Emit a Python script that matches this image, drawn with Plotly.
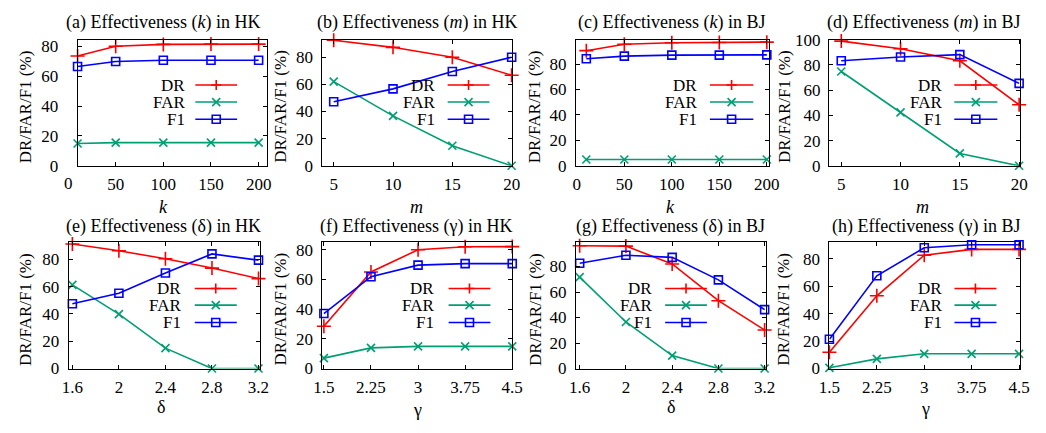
import plotly.graph_objects as go

W, H = 1046, 433

# ---------------- data ----------------
k_vals = [10, 50, 100, 150, 200]
m_vals = [5, 10, 15, 20]
delta_vals = [1.6, 2.0, 2.4, 2.8, 3.2]
gamma_vals = [1.5, 2.25, 3.0, 3.75, 4.5]

k_ticks = [0, 50, 100, 150, 200]
m_ticks = [5, 10, 15, 20]
delta_ticks = [1.6, 2.0, 2.4, 2.8, 3.2]
delta_ticktext = ["1.6", "2", "2.4", "2.8", "3.2"]
gamma_ticks = [1.5, 2.25, 3.0, 3.75, 4.5]
gamma_ticktext = ["1.5", "2.25", "3", "3.75", "4.5"]
y_ticks80 = [0, 20, 40, 60, 80]
y_ticks100 = [0, 20, 40, 60, 80, 100]

series_names = ["DR", "FAR", "F1"]

a_DR = [73.5, 80.0, 81.3, 81.5, 81.5]
a_FAR = [14.9, 15.5, 15.5, 15.5, 15.5]
a_F1 = [66.5, 69.8, 70.7, 70.7, 70.7]

b_DR = [92.5, 87.3, 80.0, 66.7]
b_FAR = [62.0, 36.8, 14.8, 0.0]
b_F1 = [47.2, 56.7, 69.5, 80.0]

c_DR = [90.5, 95.5, 96.7, 96.9, 97.2]
c_FAR = [5.0, 5.0, 5.0, 5.0, 5.0]
c_F1 = [84.2, 86.2, 87.0, 87.0, 87.2]

d_DR = [98.8, 92.7, 83.2, 48.4]
d_FAR = [74.7, 42.3, 9.8, 0.0]
d_F1 = [83.2, 86.2, 88.1, 65.3]

e_DR = [91.3, 86.3, 80.4, 73.6, 65.9]
e_FAR = [61.3, 39.9, 14.9, 0.0, 0.0]
e_F1 = [47.4, 55.1, 70.0, 84.0, 79.4]

f_DR = [28.5, 65.0, 80.0, 82.0, 82.1]
f_FAR = [7.0, 13.9, 14.9, 14.9, 14.9]
f_F1 = [37.0, 61.8, 69.6, 70.6, 70.6]

g_DR = [96.3, 96.0, 82.0, 53.2, 30.2]
g_FAR = [71.7, 36.5, 10.1, 0.0, 0.0]
g_F1 = [82.5, 88.8, 87.2, 69.5, 46.2]

h_DR = [11.8, 53.0, 82.6, 86.8, 86.8]
h_FAR = [0.5, 7.0, 10.7, 10.7, 10.7]
h_F1 = [21.3, 67.6, 88.0, 90.2, 90.2]

# ---------------- styles ----------------
FONT = "Liberation Serif"
COLORS = {"DR": "#ff0000", "FAR": "#009e73", "F1": "#0000ff"}
SYMBOLS = {"DR": "cross-thin-open", "FAR": "x-thin-open", "F1": "square-open"}
MSIZE = {"DR": 10, "FAR": 8, "F1": 8}

TOP = (32, 164)
BOT = (244, 376)

panels = [
    dict(x=k_vals, DR=a_DR, FAR=a_FAR, F1=a_F1, box=(68, 262), row=TOP,
         title="(a) Effectiveness (<i>k</i>) in HK", tcx=156, tcy=14, xt="<i>k</i>", xtx=156, xty=207,
         xr=[10, 209.3], yr=[0, 84.5], tv=k_ticks[1:], tt=[str(v) for v in k_ticks[1:]],
         ytv=y_ticks80, ylx=15, ystand=15, leg=(0.577, 0.62, 0.84)),
    dict(x=m_vals, DR=b_DR, FAR=b_FAR, F1=b_F1, box=(318, 512), row=TOP,
         title="(b) Effectiveness (<i>m</i>) in HK", tcx=415, tcy=14, xt="<i>m</i>", xtx=414, xty=207,
         xr=[4.04, 20.05], yr=[0, 93], tv=m_ticks, tt=[str(v) for v in m_ticks],
         ytv=y_ticks80, ylx=275, ystand=5, leg=(0.603, 0.66, 0.88)),
    dict(x=k_vals, DR=c_DR, FAR=c_FAR, F1=c_F1, box=(577, 774), row=TOP,
         title="(c) Effectiveness (<i>k</i>) in BJ", tcx=675, tcy=14, xt="<i>k</i>", xtx=674, xty=207,
         xr=[-1, 202], yr=[0, 99.2], tv=k_ticks, tt=[str(v) for v in k_ticks],
         ytv=y_ticks80, ylx=535, ystand=5, leg=(0.64, 0.695, 0.92)),
    dict(x=m_vals, DR=d_DR, FAR=d_FAR, F1=d_F1, box=(835.5, 1031), row=TOP,
         title="(d) Effectiveness (<i>m</i>) in BJ", tcx=933, tcy=14, xt="<i>m</i>", xtx=931, xty=207,
         xr=[3.96, 20.1], yr=[0, 100], tv=m_ticks, tt=[str(v) for v in m_ticks],
         ytv=y_ticks100, ylx=790, ystand=4, leg=(0.60, 0.655, 0.88)),
    dict(x=delta_vals, DR=e_DR, FAR=e_FAR, F1=e_F1, box=(59, 254), row=BOT,
         title="(e) Effectiveness (δ) in HK", tcx=156, tcy=228, xt="δ", xtx=153, xty=416,
         xr=[1.569, 3.21], yr=[0, 92.5], tv=delta_ticks, tt=delta_ticktext,
         ytv=y_ticks80, ylx=15, ystand=5, leg=(0.60, 0.66, 0.88)),
    dict(x=gamma_vals, DR=f_DR, FAR=f_FAR, F1=f_F1, box=(318, 512), row=BOT,
         title="(f) Effectiveness (γ) in HK", tcx=414, tcy=228, xt="γ", xtx=415, xty=419,
         xr=[1.475, 4.5], yr=[0, 85], tv=gamma_ticks, tt=gamma_ticktext,
         ytv=y_ticks80, ylx=275, ystand=5, leg=(0.60, 0.665, 0.885)),
    dict(x=delta_vals, DR=g_DR, FAR=g_FAR, F1=g_F1, box=(577, 771), row=BOT,
         title="(g) Effectiveness (δ) in BJ", tcx=674, tcy=228, xt="δ", xtx=674, xty=416,
         xr=[1.567, 3.21], yr=[0, 99], tv=delta_ticks, tt=delta_ticktext,
         ytv=y_ticks80, ylx=535, ystand=5, leg=(0.41, 0.47, 0.69)),
    dict(x=gamma_vals, DR=h_DR, FAR=h_FAR, F1=h_F1, box=(836, 1031), row=BOT,
         title="(h) Effectiveness (γ) in BJ", tcx=935, tcy=228, xt="γ", xtx=934, xty=418,
         xr=[1.5, 4.52], yr=[0, 92], tv=gamma_ticks, tt=gamma_ticktext,
         ytv=y_ticks80, ylx=789, ystand=5, leg=(0.60, 0.655, 0.875)),
]

LEG_ROWS_TOP = [0.64, 0.505, 0.369]
LEG_ROWS_BOT = [0.634, 0.502, 0.364]

fig = go.Figure()
layout = dict(
    width=W, height=H, margin=dict(l=0, r=0, t=0, b=0),
    paper_bgcolor="white", plot_bgcolor="white", showlegend=False,
    font=dict(family=FONT, size=17, color="black"),
)
annotations = []
shapes = []

for i, p in enumerate(panels, start=1):
    s = "" if i == 1 else str(i)
    xa, ya = "x" + s, "y" + s
    x0, x1 = p["box"]
    yt, yb = p["row"]
    axis_common = dict(
        showgrid=False, zeroline=False, showline=True, linecolor="black", linewidth=1,
        mirror="ticks", ticks="inside", ticklen=4, tickwidth=1, tickcolor="black",
        tickfont=dict(family=FONT, size=17, color="black"),
    )
    layout["xaxis" + s] = dict(
        domain=[x0 / W, x1 / W], anchor=ya, range=p["xr"],
        tickmode="array", tickvals=p["tv"], ticktext=p["tt"], ticklabelstandoff=3,
        **axis_common)
    layout["yaxis" + s] = dict(
        domain=[1 - yb / H, 1 - yt / H], anchor=xa, range=p["yr"],
        tickmode="array", tickvals=p["ytv"], ticklabelstandoff=p["ystand"],
        **axis_common)

    for name in series_names:
        fig.add_trace(go.Scatter(
            x=p["x"], y=p[name], xaxis=xa, yaxis=ya, mode="lines+markers", name=name,
            line=dict(color=COLORS[name], width=1.6),
            marker=dict(symbol=SYMBOLS[name], size=MSIZE[name], color=COLORS[name],
                        line=dict(color=COLORS[name], width=1.6)),
            cliponaxis=False, hoverinfo="skip",
        ))

    # title
    annotations.append(dict(text=p["title"], x=p["tcx"] / W, y=1 - p["tcy"] / H,
                            xref="paper", yref="paper", xanchor="center", yanchor="middle",
                            showarrow=False, font=dict(family=FONT, size=18, color="black")))
    # x axis title
    annotations.append(dict(text=p["xt"], x=p["xtx"] / W, y=1 - p["xty"] / H,
                            xref="paper", yref="paper", xanchor="center", yanchor="middle",
                            showarrow=False, font=dict(family=FONT, size=18, color="black")))
    # y axis title
    annotations.append(dict(text="DR/FAR/F1 (%)", x=p["ylx"] / W, y=1 - ((yt + yb) / 2 + 4) / H,
                            xref="paper", yref="paper", xanchor="center", yanchor="middle",
                            textangle=-90, showarrow=False,
                            font=dict(family=FONT, size=17, color="black")))

    # legend (gnuplot style: text then sample)
    ftx, fl0, fl1 = p["leg"]
    rows = LEG_ROWS_TOP if p["row"] == TOP else LEG_ROWS_BOT
    xd, yd = xa + " domain", ya + " domain"
    fm = (fl0 + fl1) / 2
    for name, fy in zip(series_names, rows):
        annotations.append(dict(text=name, x=ftx, y=fy, xref=xd, yref=yd,
                                xanchor="right", yanchor="middle", showarrow=False,
                                font=dict(family=FONT, size=17, color="black")))
        shapes.append(dict(type="line", xref=xd, yref=yd, x0=fl0, x1=fl1, y0=fy, y1=fy,
                           line=dict(color=COLORS[name], width=1.6)))
        if name == "DR":
            path = "M-5,0L5,0M0,-5L0,5"
        elif name == "FAR":
            path = "M-4,-4L4,4M-4,4L4,-4"
        else:
            path = "M-4,-4L4,-4L4,4L-4,4Z"
        shapes.append(dict(type="path", xref=xd, yref=yd, xsizemode="pixel", ysizemode="pixel",
                           xanchor=fm, yanchor=fy, path=path,
                           line=dict(color=COLORS[name], width=1.6), fillcolor="rgba(0,0,0,0)"))

# the "0" tick label of panel (a), which sits left of its box
pa = panels[0]
annotations.append(dict(text=str(k_ticks[0]), x=(k_ticks[0] - pa["xr"][0]) / (pa["xr"][1] - pa["xr"][0]),
                        y=1 - 182 / H, xref="x domain", yref="paper", xanchor="center",
                        yanchor="middle", showarrow=False,
                        font=dict(family=FONT, size=17, color="black")))

layout["annotations"] = annotations
layout["shapes"] = shapes
fig.update_layout(**layout)
fig.write_html("out.html")
